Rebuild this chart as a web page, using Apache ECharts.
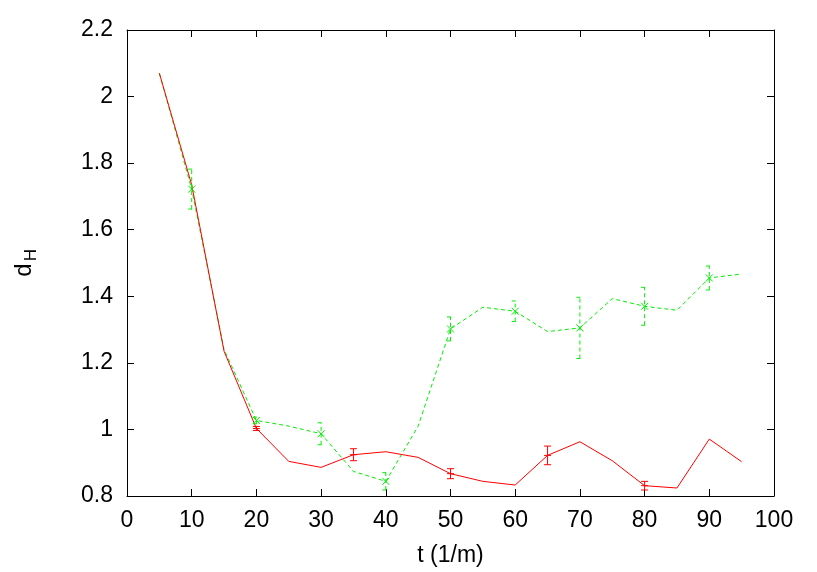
<!DOCTYPE html>
<html>
<head>
<meta charset="utf-8">
<script src="https://cdn.jsdelivr.net/npm/echarts@6/dist/echarts.min.js"></script>
<style>html,body{margin:0;padding:0;background:#fff;}#c{width:817px;height:572px;}</style>
</head>
<body>
<div id="c"></div>
<script>
const tValues = [5,10,15,20,25,30,35,40,45,50,55,60,65,70,75,80,85,90,95];
const redValues = [2.07,1.735,1.235,1.003,0.904,0.886,0.924,0.933,0.916,0.867,0.844,0.833,0.922,0.963,0.906,0.831,0.824,0.971,0.903];
const greenValues = [2.07,1.722,1.24,1.027,1.01,0.987,0.874,0.844,1.01,1.302,1.367,1.355,1.294,1.305,1.393,1.370,1.358,1.455,1.467];
const redErrT = [20,35,50,65,80];
const redErrVal = [1.003,0.924,0.867,0.922,0.831];
const redErrDelta = [0.006,0.018,0.015,0.028,0.013];
const greenErrT = [10,20,30,40,50,60,70,80,90];
const greenErrVal = [1.722,1.027,0.987,0.844,1.302,1.355,1.305,1.370,1.455];
const greenErrDelta = [0.06,0.01,0.033,0.026,0.036,0.031,0.092,0.057,0.036];
const xTicks = [0,10,20,30,40,50,60,70,80,90,100];
const yTicks = [0.8,1,1.2,1.4,1.6,1.8,2,2.2];

const RED = '#ff0000';
const GREEN = '#00ee00';
const FONT = 'Liberation Sans';

function lineData(xs, ys){ return xs.map((x,i)=>[x, ys[i]]); }
function errData(xs, ys, ds){ return xs.map((x,i)=>[x, ys[i], ds[i]]); }

function errRender(color, dashed, marker){
  return function(params, api){
    const x = api.value(0), y = api.value(1), d = api.value(2);
    const c = api.coord([x,y]);
    const lo = api.coord([x,y-d]);
    const hi = api.coord([x,y+d]);
    const cw = 3.5;
    const style = {stroke: color, lineWidth: 1};
    if (dashed) style.lineDash = [4,3];
    const ch = [
      {type:'line', shape:{x1:c[0],y1:lo[1],x2:c[0],y2:hi[1]}, style: style},
      {type:'line', shape:{x1:c[0]-cw,y1:lo[1],x2:c[0]+cw,y2:lo[1]}, style: style},
      {type:'line', shape:{x1:c[0]-cw,y1:hi[1],x2:c[0]+cw,y2:hi[1]}, style: style}
    ];
    const ms = {stroke: color, lineWidth: 1};
    const s = 3.5;
    if (marker === 'x') {
      ch.push({type:'line', shape:{x1:c[0]-s,y1:c[1]-s,x2:c[0]+s,y2:c[1]+s}, style: ms});
      ch.push({type:'line', shape:{x1:c[0]-s,y1:c[1]+s,x2:c[0]+s,y2:c[1]-s}, style: ms});
    } else {
      ch.push({type:'line', shape:{x1:c[0]-s,y1:c[1],x2:c[0]+s,y2:c[1]}, style: ms});
    }
    return {type:'group', children: ch};
  };
}

const axisCommon = {
  axisLine:{show:true, onZero:false, lineStyle:{color:'#000', width:1}},
  axisTick:{show:true, inside:true, length:7, lineStyle:{color:'#000', width:1}},
  splitLine:{show:false}
};

const chart = echarts.init(document.getElementById('c'), null, {renderer:'canvas'});
chart.setOption({
  backgroundColor:'#fff',
  animation:false,
  color:[RED, GREEN],
  grid:{left:127, right:43, top:30, bottom:75},
  xAxis:[
    Object.assign({type:'value', min:0, max:100, interval:10, position:'bottom',
      name:'t (1/m)', nameLocation:'middle', nameGap:48,
      nameTextStyle:{fontFamily:FONT, fontSize:23, color:'#000'},
      axisLabel:{fontFamily:FONT, fontSize:23, color:'#000', margin:13}}, axisCommon),
    Object.assign({type:'value', min:0, max:100, interval:10, position:'top',
      axisLabel:{show:false}}, axisCommon)
  ],
  yAxis:[
    Object.assign({type:'value', min:0.8, max:2.2, interval:0.2, position:'left',
      axisLabel:{fontFamily:FONT, fontSize:23, color:'#000', margin:14,
        formatter:function(v){ return String(Math.round(v*10)/10); }}}, axisCommon),
    Object.assign({type:'value', min:0.8, max:2.2, interval:0.2, position:'right',
      axisLabel:{show:false}}, axisCommon)
  ],
  graphic:[{
    type:'group', x:24, y:264, rotation:Math.PI/2,
    children:[
      {type:'text', x:-6, y:0, style:{text:'d', font:'24px "Liberation Sans"', fill:'#000', textAlign:'center', textVerticalAlign:'middle'}},
      {type:'text', x:9, y:7, style:{text:'H', font:'17px "Liberation Sans"', fill:'#000', textAlign:'center', textVerticalAlign:'middle'}}
    ]
  }],
  series:[
    {type:'line', data: lineData(tValues, redValues), symbol:'none',
      lineStyle:{color:RED, width:1}, itemStyle:{color:RED}, z:3},
    {type:'line', data: lineData(tValues, greenValues), symbol:'none',
      lineStyle:{color:GREEN, width:1, type:[4,3]}, itemStyle:{color:GREEN}, z:2},
    {type:'custom', data: errData(redErrT, redErrVal, redErrDelta), renderItem: errRender(RED, false, '+'),
      itemStyle:{color:RED}, z:4},
    {type:'custom', data: errData(greenErrT, greenErrVal, greenErrDelta), renderItem: errRender(GREEN, true, 'x'),
      itemStyle:{color:GREEN}, z:4}
  ]
});
</script>
</body>
</html>
